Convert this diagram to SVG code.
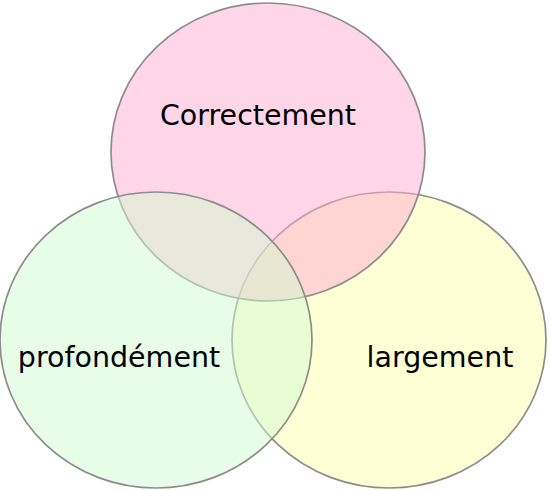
<svg xmlns="http://www.w3.org/2000/svg" width="551" height="491" viewBox="0 0 551 491">
<style>
.c{stroke:#8c8c8c;stroke-width:1.7;fill-opacity:0.5}
.t{font-family:"DejaVu Sans",Verdana,sans-serif;font-size:28.5px;fill:#000;text-anchor:middle}
</style>
<rect width="551" height="491" fill="#fff"/>
<g id="largement">
<ellipse class="c" cx="389" cy="340" rx="157" ry="148" fill="#FFFFAB"/>
</g>
<g id="correctement">
<ellipse class="c" cx="268" cy="152" rx="157" ry="149" fill="#FFABD1"/>
</g>
<g id="profondement">
<ellipse class="c" cx="156" cy="340" rx="156" ry="148" fill="#D1FBD1"/>
</g>
<g id="labels">
<text class="t" x="258" y="125">Correctement</text>
<text class="t" x="119" y="367">profondément</text>
<text class="t" x="440" y="367">largement</text>
</g>
</svg>
